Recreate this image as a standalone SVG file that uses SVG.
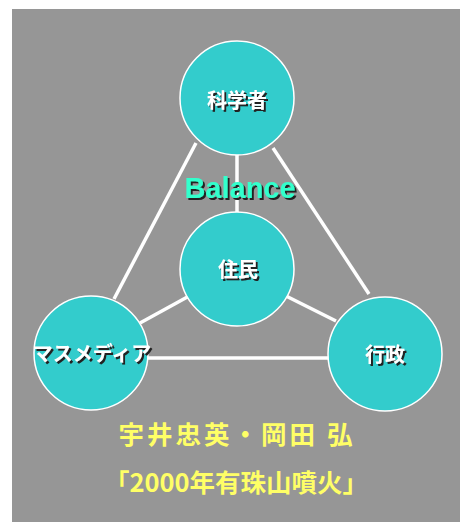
<svg xmlns="http://www.w3.org/2000/svg" width="460" height="522" viewBox="0 0 460 522">
<defs>
<filter id="shadow" x="-10%" y="-20%" width="130%" height="150%">
<feDropShadow dx="2" dy="2" stdDeviation="0" flood-color="#222222" flood-opacity="1"/>
</filter>
<style>
.bg{fill:#969696}
.node{fill:#33CCCC;stroke:#FFFFFF;stroke-width:1.5}
.conn line{stroke:#FFFFFF;stroke-width:3.5;stroke-linecap:butt}
.lbl{font-family:"Liberation Sans","Noto Sans CJK JP",sans-serif;font-weight:bold;font-size:20px;text-anchor:middle;dominant-baseline:central;fill:#FFFFFF;filter:url(#shadow)}
.bal{font-family:"Liberation Sans",Arial,sans-serif;font-weight:bold;font-size:29px;text-anchor:middle;fill:#33FFCC;filter:url(#shadow)}
.cap{font-family:"Noto Sans CJK JP",sans-serif;font-weight:bold;font-size:25.5px;fill:#FFFF66;text-anchor:middle;dominant-baseline:central}
</style>
</defs>
<rect class="bg" x="12" y="9" width="448" height="513"/>
<g id="connectors" class="conn">
<line x1="196" y1="143" x2="114" y2="299"/>
<line x1="273" y1="148" x2="369" y2="294"/>
<line x1="237" y1="154" x2="237" y2="213"/>
<line x1="191" y1="295" x2="140" y2="323"/>
<line x1="286" y1="296" x2="336" y2="321"/>
<line x1="147" y1="358" x2="329" y2="358"/>
</g>
<text id="balance" class="bal" x="240" y="198">Balance</text>
<g id="scientists">
<circle class="node" cx="237" cy="98" r="57"/>
<text class="lbl" x="237" y="101">科学者</text>
</g>
<g id="residents">
<circle class="node" cx="237" cy="269" r="57"/>
<text class="lbl" x="238" y="270">住民</text>
</g>
<g id="massmedia">
<circle class="node" cx="91" cy="353" r="57"/>
<text class="lbl" x="92" y="354">マスメディア</text>
</g>
<g id="government">
<circle class="node" cx="385" cy="354" r="57"/>
<text class="lbl" x="385" y="355">行政</text>
</g>
<g id="caption">
<text class="cap" x="237" y="432" letter-spacing="3">宇井忠英・岡田 弘</text>
<text class="cap" x="236" y="480">「2000年有珠山噴火」</text>
</g>
</svg>
